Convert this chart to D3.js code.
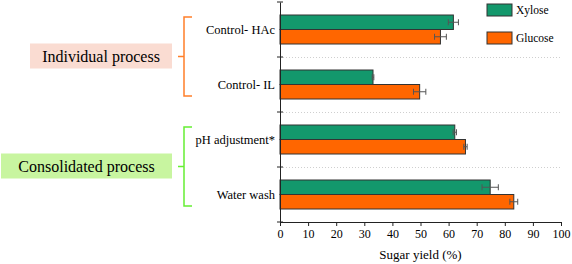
<!DOCTYPE html>
<html>
<head>
<meta charset="utf-8">
<script src="https://cdn.jsdelivr.net/npm/d3@7"></script>
<style>
  body { margin: 0; background: #fff; }
  svg text { font-family: "Liberation Serif", "Times New Roman", serif; fill: #000; }
</style>
</head>
<body>
<div id="chart"></div>
<script>
// Chart data
const categories = ["Control- HAc", "Control- IL", "pH adjustment*", "Water wash"];
const seriesNames = ["Xylose", "Glucose"];
const xyloseValues = [61.7, 33.1, 62.2, 74.8];
const xyloseErrors = [1.8, 0.3, 0.6, 2.9];
const glucoseValues = [57.1, 49.7, 66.0, 83.2];
const glucoseErrors = [2.1, 2.2, 0.6, 1.4];
const xTicks = [0, 10, 20, 30, 40, 50, 60, 70, 80, 90, 100];
const groupLabels = ["Individual process", "Consolidated process"];
const groupSpans = [[0, 1], [2, 3]];

const colors = { Xylose: "#13986c", Glucose: "#ff6600" };
const groupFills = ["#fadcd2", "#c8f5a0"];
const braceColors = ["#ff7f2a", "#66ee33"];

const W = 572, H = 264;
const margin = { top: 2, right: 11, bottom: 42, left: 280 };
const serif = "'Liberation Serif', 'Times New Roman', serif";

const svg = d3.select("#chart").append("svg")
  .attr("width", W).attr("height", H);

const x = d3.scaleLinear().domain([0, 100]).range([margin.left, W - margin.right]);
const y = d3.scaleBand().domain(categories).range([margin.top, H - margin.bottom]);
const inner = d3.scaleBand().domain(seriesNames).range([13, y.bandwidth() - 13]);

// dotted separators between categories
svg.append("g").selectAll("line")
  .data(categories.slice(1))
  .enter().append("line")
  .attr("x1", x(0)).attr("x2", x(100))
  .attr("y1", d => y(d) + 0.5).attr("y2", d => y(d) + 0.5)
  .attr("stroke", "#cfcfcf").attr("stroke-width", 1)
  .attr("stroke-dasharray", "1,2");

// bars
const rows = [];
categories.forEach((c, i) => {
  rows.push({ cat: c, s: "Xylose", v: xyloseValues[i], e: xyloseErrors[i] });
  rows.push({ cat: c, s: "Glucose", v: glucoseValues[i], e: glucoseErrors[i] });
});

svg.append("g").selectAll("rect")
  .data(rows)
  .enter().append("rect")
  .attr("x", x(0))
  .attr("y", d => y(d.cat) + inner(d.s))
  .attr("width", d => x(d.v) - x(0))
  .attr("height", inner.bandwidth())
  .attr("fill", d => colors[d.s])
  .attr("stroke", "#333").attr("stroke-width", 1);

// error bars
const eb = svg.append("g").attr("stroke", "#555").attr("stroke-width", 1);
rows.forEach(d => {
  const cy = y(d.cat) + inner(d.s) + inner.bandwidth() / 2;
  eb.append("line").attr("x1", x(d.v - d.e)).attr("x2", x(d.v + d.e)).attr("y1", cy).attr("y2", cy);
  [d.v - d.e, d.v + d.e].forEach(v => {
    eb.append("line").attr("x1", x(v)).attr("x2", x(v)).attr("y1", cy - 3).attr("y2", cy + 3);
  });
});

// x axis
const xAxis = svg.append("g")
  .attr("transform", `translate(0,${H - margin.bottom})`)
  .call(d3.axisBottom(x).tickValues(xTicks).tickSize(4).tickSizeOuter(0));
xAxis.select(".domain").attr("stroke", "#222");
xAxis.selectAll(".tick line").attr("stroke", "#222");
xAxis.selectAll("text").attr("y", 7)
  .style("font-size", "12px").style("font-family", serif).attr("fill", "#000");

svg.append("text")
  .attr("x", (x(0) + x(100)) / 2).attr("y", 259)
  .attr("text-anchor", "middle").style("font-size", "13px")
  .text("Sugar yield (%)");

// y axis
const yAxis = svg.append("g")
  .attr("transform", `translate(${x(0)},0)`)
  .call(d3.axisLeft(y).tickSize(0).tickPadding(5));
yAxis.select(".domain").attr("stroke", "#222");
yAxis.selectAll("text").style("font-size", "12.5px")
  .style("font-family", serif).attr("fill", "#000");

// small ticks at category boundaries
const yEdges = categories.map(c => y(c)).concat([H - margin.bottom]);
svg.append("g").selectAll("line")
  .data(yEdges)
  .enter().append("line")
  .attr("x1", x(0) - 3).attr("x2", x(0) + 3)
  .attr("y1", d => d).attr("y2", d => d)
  .attr("stroke", "#222");

// legend
const legend = svg.append("g").attr("transform", "translate(487,4)");
seriesNames.forEach((s, i) => {
  const g = legend.append("g").attr("transform", `translate(0,${i * 28})`);
  g.append("rect").attr("width", 25).attr("height", 12)
    .attr("fill", colors[s]).attr("stroke", "#333");
  g.append("text").attr("x", 29).attr("y", 6).attr("dy", "0.35em")
    .style("font-size", "11.5px").text(s);
});

// braces + group labels
groupLabels.forEach((label, i) => {
  const [a, b] = groupSpans[i];
  const top = y(categories[a]) + 15;
  const bot = y(categories[b]) + y.bandwidth() - 16;
  const mid = (top + bot) / 2;
  const bx = 184;
  svg.append("path")
    .attr("d", `M${bx + 8},${top} L${bx},${top} L${bx},${bot} L${bx + 8},${bot} M${bx},${mid} L${bx - 6},${mid}`)
    .attr("fill", "none").attr("stroke", braceColors[i]).attr("stroke-width", 1.5);

  const tw = i === 0 ? 142 : 171;
  svg.append("rect")
    .attr("x", 172 - tw).attr("y", mid - 13)
    .attr("width", tw).attr("height", 25)
    .attr("fill", groupFills[i]);
  svg.append("text")
    .attr("x", 172 - tw / 2).attr("y", mid).attr("dy", "0.35em")
    .attr("text-anchor", "middle").style("font-size", "16px")
    .text(label);
});
</script>
</body>
</html>
